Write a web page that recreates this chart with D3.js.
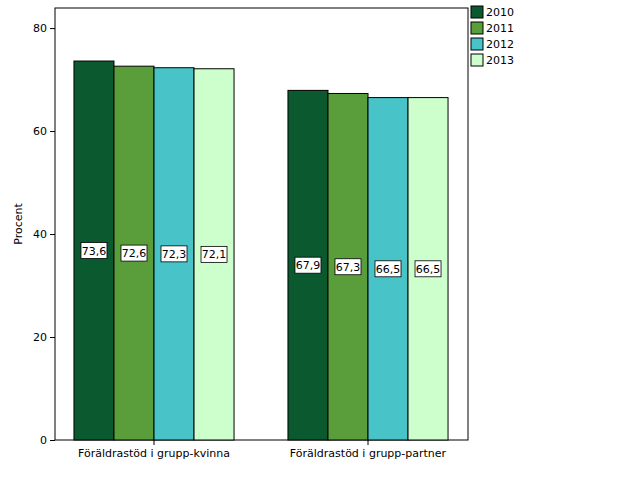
<!DOCTYPE html><html><head><meta charset="utf-8"><script src="https://cdn.jsdelivr.net/npm/d3@7"></script>
<style>body{margin:0;background:#fff}text{font-family:"DejaVu Sans",sans-serif;font-size:11px}</style></head><body><svg width="626" height="501"></svg>
<script>
const categories=["Föräldrastöd i grupp-kvinna","Föräldrastöd i grupp-partner"];
const years=["2010","2011","2012","2013"];
const values2010=[73.6,67.9],values2011=[72.6,67.3],values2012=[72.3,66.5],values2013=[72.1,66.5];
const labels=[["73,6","67,9"],["72,6","67,3"],["72,3","66,5"],["72,1","66,5"]];
const yTicks=[0,20,40,60,80];
const colors=["#0b5a2f","#5a9e3c","#48c4c8","#ccffcc"];
const series=[values2010,values2011,values2012,values2013];
const svg=d3.select("svg");
const L=55,R=468,T=8,B=440;
const y=d3.scaleLinear().domain([0,83.9]).range([B,T]);
const x0=d3.scaleBand().domain(categories).range([47,475]).paddingInner(0.252).paddingOuter(0.126);
const x1=d3.scaleBand().domain(years).range([0,x0.bandwidth()]);
svg.append("rect").attr("x",L).attr("y",T).attr("width",R-L).attr("height",B-T).attr("fill","none").attr("stroke","#000");
const ya=svg.append("g").attr("transform",`translate(${L},0)`).call(d3.axisLeft(y).tickValues(yTicks).tickSize(5).tickPadding(3));
ya.select(".domain").remove();
const xa=svg.append("g").attr("transform",`translate(0,${B})`).call(d3.axisBottom(x0).tickSize(5).tickPadding(4));
xa.select(".domain").remove();
svg.selectAll(".tick text").attr("fill","#000").style("font-size","11px");
series.forEach((s,i)=>{
 categories.forEach((c,j)=>{
  const bx=x0(c)+x1(years[i]),bw=x1.bandwidth();
  svg.append("rect").attr("x",bx).attr("y",y(s[j])).attr("width",bw).attr("height",B-y(s[j])).attr("fill",colors[i]).attr("stroke","#000").attr("stroke-width",1);
  const cy=(y(s[j])+B)/2,cx=bx+bw/2;
  svg.append("rect").attr("x",cx-13).attr("y",cy-8).attr("width",26).attr("height",16).attr("fill","#fff").attr("stroke","#000").attr("stroke-width",0.8);
  svg.append("text").attr("x",cx).attr("y",cy+4).attr("text-anchor","middle").text(labels[i][j]);
 });
});
svg.append("text").attr("transform","translate(22,224) rotate(-90)").attr("text-anchor","middle").text("Procent");
years.forEach((yr,i)=>{
 svg.append("rect").attr("x",471).attr("y",6+i*16).attr("width",12).attr("height",12).attr("fill",colors[i]).attr("stroke","#000");
 svg.append("text").attr("x",486).attr("y",16+i*16).text(yr);
});
</script></body></html>
